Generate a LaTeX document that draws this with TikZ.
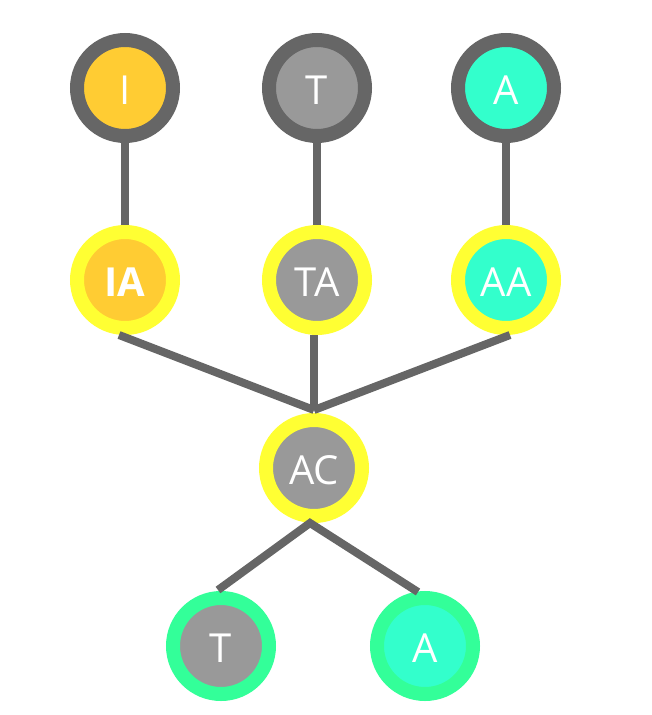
\documentclass[tikz,border=0pt]{standalone}
\usepackage{fontspec}
\setmainfont{Open Sans}
\usepackage{xcolor}
\usepackage{tikz}

\definecolor{ringgray}{HTML}{666666}
\definecolor{ringyellow}{HTML}{FFFF33}
\definecolor{ringgreen}{HTML}{33FF99}
\definecolor{fillgray}{HTML}{999999}
\definecolor{fillgold}{HTML}{FFCC33}
\definecolor{fillteal}{HTML}{33FFCC}

\begin{document}
\begin{tikzpicture}[x=1pt, y=-1pt,
        bead/.style={circle, minimum size=96pt, inner sep=0pt, line width=14pt},
        beadtext/.style={yshift=-2pt, text=white, font=\fontsize{40}{40}\selectfont},
        link/.style={draw=ringgray, line width=8pt}]
        \useasboundingbox (0,0) rectangle (651,715);

        \node[bead, draw=ringgray, fill=fillgold] (i) at (125,88) {};
        \node[bead, draw=ringgray, fill=fillgray] (t) at (317,88) {};
        \node[bead, draw=ringgray, fill=fillteal] (a) at (506,88) {};

        \node[bead, draw=ringyellow, fill=fillgold] (ia) at (125,280) {};
        \node[bead, draw=ringyellow, fill=fillgray] (ta) at (317,280) {};
        \node[bead, draw=ringyellow, fill=fillteal] (aa) at (506,280) {};

        \node[bead, draw=ringyellow, fill=fillgray] (ac) at (314,468) {};

        \node[bead, draw=ringgreen, fill=fillgray] (tb) at (221,646) {};
        \node[bead, draw=ringgreen, fill=fillteal] (ab) at (425,646) {};

        % texts
        \foreach \n/\txt in {i/I, t/T, a/A, ia/\bfseries IA, ta/TA, aa/AA, ac/AC, tb/T, ab/A}
            \node[beadtext] (\n-txt) at (\n) {\txt};

        \coordinate (join) at (314,410);
        \coordinate (fork) at (310,523);
        \coordinate (tbend) at (218,590);
        \coordinate (abend) at (418,592);

        \draw[link] (i) -- (ia);
        \draw[link] (t) -- (ta);
        \draw[link] (a) -- (aa);

        \draw[link] ([xshift=-6pt]ia.south) -- (join);
        \draw[link] (ta.south -| join) -- (join);
        \draw[link] ([xshift=4pt]aa.south) -- (join);

        \draw[link] (tbend) -- (fork) -- (abend); % ac to leaves
    \end{tikzpicture}
\end{document}
